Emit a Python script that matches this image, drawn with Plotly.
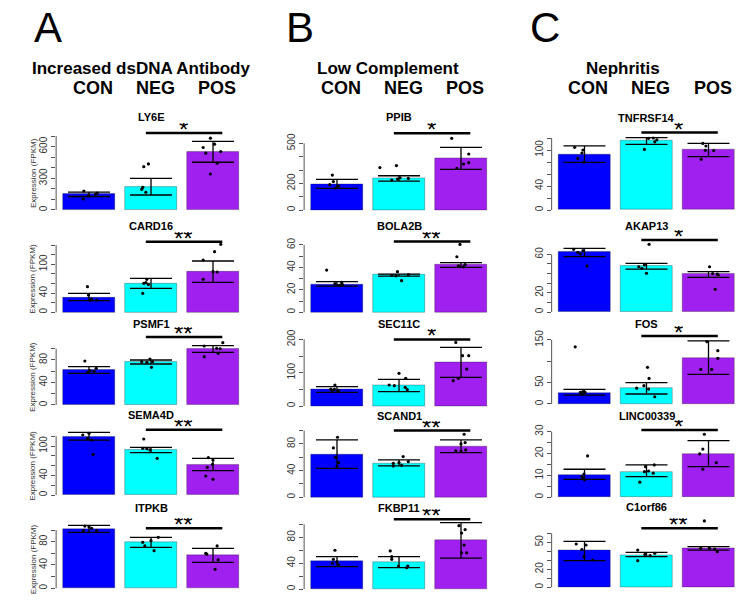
import plotly.graph_objects as go

# ---------------- data ----------------
groups = ["CON", "NEG", "POS"]
bar_colors = ["#0000FF", "#00FFFF", "#A020F0"]
panel_letters = ["A", "B", "C"]
panel_titles = ["Increased dsDNA Antibody", "Low Complement", "Nephritis"]

genes_A = ["LY6E", "CARD16", "PSMF1", "SEMA4D", "ITPKB"]
genes_B = ["PPIB", "BOLA2B", "SEC11C", "SCAND1", "FKBP11"]
genes_C = ["TNFRSF14", "AKAP13", "FOS", "LINC00339", "C1orf86"]

means_A = [[149, 221, 553], [31.2, 60.4, 84.6], [62.2, 75.9, 99.6], [119, 91.8, 62.6], [101.7, 78.9, 57.1]]
lower_A = [[128, 142, 452], [24.3, 50, 62.5], [56.3, 72.9, 93.6], [112, 86.3, 49.6], [96, 70.3, 44.6]]
upper_A = [[170, 300, 650], [39.6, 70.8, 106.9], [68.1, 80, 105.5], [128, 97.3, 74.9], [108, 87.4, 68.6]]

means_B = [[195, 237, 387], [25, 33.2, 42.1], [50, 61, 131], [64.5, 51, 76], [43, 41.3, 75.4]]
lower_B = [[162, 217, 305], [23.4, 32.3, 40.1], [41, 43, 86], [43.5, 47, 67], [34.5, 33, 47.9]]
upper_B = [[230, 257, 470], [27.3, 34, 44.2], [58, 80, 176], [86, 56, 86], [50, 50, 102.6]]

means_C = [[93, 115, 100], [62, 47.9, 39.2], [26.5, 36.7, 107], [10.2, 11.7, 19.6], [40.7, 35.9, 43.3]]
lower_C = [[79.4, 109.4, 89], [57.6, 44.7, 36], [21, 23.4, 69.5], [8.2, 9.4, 14], [29.6, 34, 41.4]]
upper_C = [[107, 120.5, 111], [66.3, 50.7, 42], [34.4, 50, 148], [12.8, 14.8, 25.9], [51, 38.9, 45.1]]

# individual samples (per gene: CON, NEG, POS)
points_A = [
    [[180, 104, 149, 161, 133], [436, 410, 215, 196, 168], [680, 623, 592, 538, 553, 443, 341]],
    [[53.3, 36, 28, 25.6, 25], [68.8, 62, 60.4, 39.6, 58], [141.7, 126.3, 109, 84.6, 84, 68.8]],
    [[78.2, 65.2, 61, 60, 58], [81.8, 77, 77, 76, 67], [110.8, 104.9, 100.7, 100, 91.9, 86]],
    [[125.8, 122.4, 115.6, 112, 83], [114.3, 95.2, 94.5, 92, 74.9], [76.2, 71.4, 62.6, 56.5, 38.8, 32]],
    [[106.8, 105.7, 99, 98.8, 103], [87.4, 81.7, 78.9, 72.6, 64.5], [72.6, 60, 58.5, 48.6, 32.6]],
]
jitter_A = [
    [[-0.10, -0.11, 0.13, 0.16, -0.01], [-0.05, -0.14, -0.16, -0.18, -0.10], [-0.05, 0.03, -0.19, -0.14, 0.15, 0.08, -0.05]],
    [[-0.03, -0.01, 0.05, 0.15, 0.02], [-0.08, -0.10, -0.14, -0.16, -0.05], [0.15, 0.03, -0.19, 0.0, 0.08, -0.19]],
    [[-0.08, 0.14, 0.02, 0.10, -0.03], [-0.02, 0.03, -0.18, -0.08, 0.01], [0.19, -0.17, 0.07, 0.14, 0.10, -0.17]],
    [[0.0, -0.12, -0.03, 0.05, 0.08], [-0.14, -0.16, -0.08, -0.02, 0.12], [-0.09, 0.0, -0.01, -0.11, -0.14, 0.0]],
    [[-0.08, 0.0, 0.15, -0.11, 0.05], [0.14, 0.0, -0.16, -0.12, 0.06], [0.08, -0.14, -0.12, 0.10, 0.04]],
]
points_B = [
    [[262, 213, 190, 165, 180], [318, 333, 225, 242, 237, 232], [538, 420, 355, 345, 312]],
    [[37.6, 26.6, 25, 24, 25.5], [36.2, 28.2, 33, 33.5, 32.5], [60.5, 49.5, 41.5, 40.5, 42.5]],
    [[63, 51, 50, 46, 47], [98, 83, 63, 61, 56, 49], [191, 151, 151, 111, 83, 76]],
    [[90, 74, 60, 46, 52], [61, 53.5, 52, 51, 47, 48], [94.5, 82, 80, 71, 68.5, 69.5]],
    [[60, 46, 40, 37.5, 42], [59, 50, 46, 35.5, 35.5, 33], [98, 92, 86.7, 68, 56, 56]],
]
jitter_B = [
    [[-0.09, -0.07, -0.14, -0.03, 0.03], [-0.37, -0.05, -0.14, 0.02, 0.18, -0.03], [-0.18, 0.15, 0.15, 0.05, -0.08]],
    [[-0.20, 0.09, 0.10, 0.05, -0.04], [-0.03, 0.05, -0.14, 0.18, -0.06], [-0.02, -0.08, -0.05, 0.05, 0.08]],
    [[-0.04, -0.12, -0.05, 0.03, -0.09], [0.0, 0.13, -0.19, -0.09, 0.12, 0.16], [-0.10, 0.03, 0.15, 0.11, -0.05, -0.15]],
    [[0.01, -0.07, -0.03, 0.0, 0.03], [0.08, 0.18, 0.0, -0.11, -0.11, 0.05], [0.06, 0.08, 0.0, 0.09, 0.0, -0.10]],
    [[-0.04, -0.07, -0.09, 0.03, 0.0], [-0.17, -0.14, -0.14, -0.01, 0.17, 0.15], [-0.04, 0.08, 0.01, 0.06, 0.01, 0.11]],
]
points_C = [
    [[104.4, 100, 86, 79.5, 95], [101, 119.4, 120, 117, 113.6], [111, 106.7, 99, 99.5, 84.4]],
    [[65.2, 63.8, 60.4, 47.9, 62], [70.4, 49, 47.1, 45.5, 40.3], [47.1, 39.5, 38.5, 23.6, 40]],
    [[134, 29, 27, 27.5, 23], [86, 60, 43, 37, 35, 17], [146, 125, 107, 81, 81]],
    [[18.9, 10.6, 9.5, 8.7, 8], [14.8, 14, 11.7, 11, 6.9, 12], [28.8, 22, 19.8, 15.8, 12.8]],
    [[48.1, 47, 34, 30.3, 42], [41.4, 37.8, 36.5, 35.1, 29.6], [73.7, 43.3, 43.3, 42.5, 39.6]],
]
jitter_C = [
    [[-0.19, -0.03, -0.13, -0.01, -0.05], [-0.04, 0.04, 0.13, 0.20, 0.16], [-0.11, -0.05, 0.10, -0.06, -0.14]],
    [[-0.21, -0.03, -0.08, 0.05, -0.13], [0.05, -0.04, -0.15, -0.09, 0.0], [0.02, 0.17, 0.19, 0.13, 0.08]],
    [[-0.18, -0.03, -0.08, 0.01, -0.05], [0.02, 0.05, -0.05, -0.19, 0.04, 0.16], [-0.03, 0.18, 0.18, -0.15, 0.06]],
    [[0.06, -0.01, -0.05, -0.03, 0.0], [0.15, -0.02, -0.04, 0.13, -0.13, 0.04], [-0.08, -0.11, -0.17, 0.15, -0.11]],
    [[-0.16, 0.03, -0.01, 0.16, -0.05], [-0.17, 0.16, -0.03, 0.07, -0.17], [-0.08, -0.15, 0.02, 0.12, 0.17]],
]

# significance (NEG vs POS): stars and bracket height (data units)
stars_A = ["*", "**", "**", "**", "**"]
stars_B = ["*", "**", "*", "**", "**"]
stars_C = ["*", "*", "*", "*", "**"]
sig_height_A = [729, 147, 121, 133, 103]
sig_height_B = [575, 63, 200, 100, 108]
sig_height_C = [129, 75, 159, 30.7, 65.5]

# y tick values and labels
tick_step_A = [100, 20, 20, 20, 20]
tick_top_A = [700, 140, 100, 120, 100]
tick_labels_A = [[0, 300, 600], [0, 40, 100], [0, 40, 80], [0, 40, 100], [0, 40, 80]]
tick_step_B = [100, 10, 50, 20, 20]
tick_top_B = [500, 60, 200, 100, 100]
tick_labels_B = [[0, 200, 500], [0, 20, 40, 60], [0, 100, 200], [0, 40, 80], [0, 40, 80]]
tick_step_C = [20, 10, 50, 5, 10]
tick_top_C = [120, 60, 150, 30, 60]
tick_labels_C = [[0, 40, 100], [0, 20, 60], [0, 50, 150], [0, 10, 20, 30], [0, 20, 50]]

# ---------------- layout geometry (pixels) ----------------
W, H = 750, 610
FONT = "Liberation Sans, Arial, sans-serif"
x_centers = [0.7, 1.9, 3.1]        # barplot positions (width 1, space 0.2)
x_range = [0.064, 3.736]
u = 51.67                          # px per x unit
col_mid_px = [151, 399, 646.5]      # NEG bar centre per column
zero_px = [[210, 312.3, 405, 495, 588.3], [210, 312.3, 406, 497.3, 589], [210, 312, 404, 497.3, 587.3]]
px_per_unit = [[0.1056, 0.48, 0.5625, 0.49, 0.583], [0.1333, 1.122, 0.333, 0.667, 0.646], [0.6, 0.961, 0.427, 2.19, 0.9]]
title_px = [[117, 226, 324, 415, 507.7], [117.3, 225.7, 324.3, 416, 508.3], [118.3, 225.7, 324.3, 416, 507.3]]

def py(p):
    return 1 - p / H

cols = [
    (genes_A, means_A, lower_A, upper_A, points_A, jitter_A, stars_A, sig_height_A, tick_step_A, tick_top_A, tick_labels_A),
    (genes_B, means_B, lower_B, upper_B, points_B, jitter_B, stars_B, sig_height_B, tick_step_B, tick_top_B, tick_labels_B),
    (genes_C, means_C, lower_C, upper_C, points_C, jitter_C, stars_C, sig_height_C, tick_step_C, tick_top_C, tick_labels_C),
]

fig = go.Figure()
layout = {}
shapes = []
annotations = []

for ci, (genes, means, lower, upper, points, jitter, stars, sigh, tstep, ttop, tlab) in enumerate(cols):
    cmid = col_mid_px[ci]
    xdom = [(cmid - (x_centers[1] - x_range[0]) * u) / W, (cmid + (x_range[1] - x_centers[1]) * u) / W]
    for ri in range(5):
        n = ci * 5 + ri + 1
        xs = "x" if n == 1 else f"x{n}"
        ys = "y" if n == 1 else f"y{n}"
        z = zero_px[ci][ri]
        s = px_per_unit[ci][ri]
        top_val = sigh[ri] + 16 / s
        bot_val = -2 / s
        dom_bot = py(z + 2)
        dom_top = py(z - top_val * s)
        m = means[ri]
        fig.add_trace(go.Bar(
            x=x_centers, y=m, width=1.0, xaxis=xs, yaxis=ys,
            marker=dict(color=bar_colors, line=dict(color="rgba(0,0,0,0.35)", width=0.8)),
            error_y=dict(type="data", symmetric=False,
                         array=[upper[ri][k] - m[k] for k in range(3)],
                         arrayminus=[m[k] - lower[ri][k] for k in range(3)],
                         color="black", thickness=1.3, width=21),
            showlegend=False, hoverinfo="skip"))
        px_, py_ = [], []
        for k in range(3):
            for v, j in zip(points[ri][k], jitter[ri][k]):
                px_.append(x_centers[k] + j)
                py_.append(v)
        fig.add_trace(go.Scatter(
            x=px_, y=py_, mode="markers", xaxis=xs, yaxis=ys, cliponaxis=False,
            marker=dict(color="black", size=3.2), showlegend=False, hoverinfo="skip"))
        step = tstep[ri]
        tv = []
        t = 0
        while t <= ttop[ri] + 1e-9:
            tv.append(t)
            t += step
        tt = [str(v) if v in tlab[ri] else "" for v in tv]
        xkey = "xaxis" if n == 1 else f"xaxis{n}"
        ykey = "yaxis" if n == 1 else f"yaxis{n}"
        layout[xkey] = dict(domain=xdom, range=x_range, anchor=ys, visible=False, fixedrange=True)
        layout[ykey] = dict(domain=[dom_bot, dom_top], range=[bot_val, top_val], anchor=xs,
                            showgrid=False, zeroline=False, showline=False, fixedrange=True,
                            tickmode="array", tickvals=tv, ticktext=tt,
                            ticks="outside", ticklen=4, tickwidth=1, tickcolor="#555",
                            tickangle=-90, tickfont=dict(family=FONT, size=10, color="#333"))
        # y axis line
        shapes.append(dict(type="line", xref=f"{xs} domain", yref=ys, x0=0, x1=0, y0=0, y1=tv[-1],
                           line=dict(color="#555", width=1)))
        # significance bracket
        shapes.append(dict(type="line", xref=xs, yref=ys, x0=1.8, x1=3.28, y0=sigh[ri], y1=sigh[ri],
                           line=dict(color="black", width=2.5)))
        annotations.append(dict(xref=xs, yref=ys, x=2.52, y=sigh[ri], text=stars[ri], showarrow=False,
                                xanchor="center", yanchor="middle", yshift=4, height=12, valign="middle",
                                font=dict(family=FONT, size=24, color="black")))
        # gene title
        annotations.append(dict(xref="paper", yref="paper", x=cmid / W, y=py(title_px[ci][ri]),
                                text=f"<b>{genes[ri]}</b>", showarrow=False,
                                xanchor="center", yanchor="middle",
                                font=dict(family=FONT, size=11, color="black")))
        if ci == 0:
            annotations.append(dict(xref="paper", yref="paper", x=33 / W, y=py(z - tv[-1] * s / 2),
                                    text="Expression (FPKM)", textangle=-90, showarrow=False,
                                    xanchor="center", yanchor="middle",
                                    font=dict(family=FONT, size=8, color="#333")))

# headers
letter_px = [(48, 27), (300, 27), (545, 27)]
title_pos = [(141, 68.5), (388, 68.5), (623, 68.5)]
for ci in range(3):
    annotations.append(dict(xref="paper", yref="paper", x=letter_px[ci][0] / W, y=py(letter_px[ci][1]),
                            text=panel_letters[ci], showarrow=False, xanchor="center", yanchor="middle",
                            font=dict(family=FONT, size=42, color="black")))
    annotations.append(dict(xref="paper", yref="paper", x=title_pos[ci][0] / W, y=py(title_pos[ci][1]),
                            text=f"<b>{panel_titles[ci]}</b>", showarrow=False, xanchor="center", yanchor="middle",
                            font=dict(family=FONT, size=17, color="black")))
    for k in range(3):
        cx = col_mid_px[ci] + (x_centers[k] - x_centers[1]) * u + 4
        annotations.append(dict(xref="paper", yref="paper", x=cx / W, y=py(88.5),
                                text=f"<b>{groups[k]}</b>", showarrow=False, xanchor="center", yanchor="middle",
                                font=dict(family=FONT, size=18, color="black")))

fig.update_layout(width=W, height=H, margin=dict(l=0, r=0, t=0, b=0),
                  paper_bgcolor="white", plot_bgcolor="white",
                  shapes=shapes, annotations=annotations, bargap=0, **layout)
fig.write_html("out.html", config={"displayModeBar": False},
               post_script="document.body.style.margin='0';")
